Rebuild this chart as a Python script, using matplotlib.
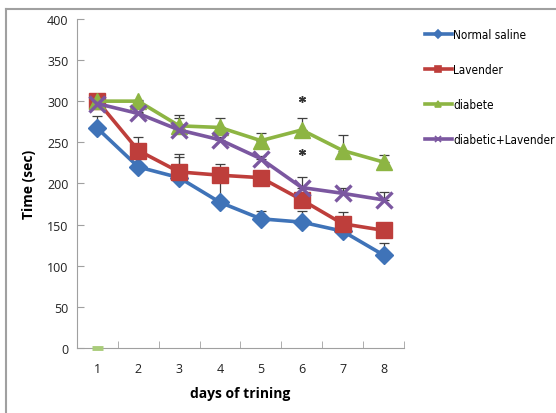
import numpy as np
import matplotlib
matplotlib.use("Agg")
import matplotlib.pyplot as plt
from matplotlib.lines import Line2D
from matplotlib.font_manager import FontProperties

days = [1, 2, 3, 4, 5, 6, 7, 8]
normal = [267, 220, 207, 177, 157, 153, 142, 113]
normal_err = [15, 5, 25, 25, 9, 14, 5, 15]
lavender = [300, 240, 214, 210, 207, 180, 151, 143]
lavender_err = [2, 17, 22, 14, 5, 10, 14, 2]
diabete = [300, 300, 270, 268, 252, 265, 240, 226]
diabete_err = [2, 2, 13, 11, 9, 14, 19, 8]
diab_lav = [297, 285, 265, 253, 230, 195, 188, 180]
diab_lav_err = [2, 2, 15, 3, 3, 13, 7, 9]
star_x = [6, 6]
star_y = [303, 238]

plt.rcParams['font.family'] = ['Open Sans', 'DejaVu Sans']

series = [
    ("Normal saline", normal, normal_err, '#3F73B8', 'D', 9),
    ("Lavender", lavender, lavender_err, '#BE3E3B', 's', 11),
    ("diabete", diabete, diabete_err, '#8DB543', '^', 11),
    ("diabetic+Lavender", diab_lav, diab_lav_err, '#7B57A0', 'x', 11),
]

fig = plt.figure(figsize=(5.56, 4.14), dpi=100)
ax = fig.add_axes([0.1385, 0.157, 0.588, 0.795])

for name, vals, err, col, mk, ms in series:
    ax.errorbar(days, vals, yerr=[np.zeros(len(err)), err], fmt='none',
                ecolor='#404040', elinewidth=0.9, capsize=3.5, capthick=0.9, zorder=1)
    ax.plot(days, vals, color=col, lw=2.6, marker=mk, ms=ms,
            mew=2.4 if mk == 'x' else 1, mec=col, mfc=col, zorder=2)

# stray green mark at the origin of day 1, as in the original
ax.plot([0.86, 1.14], [0, 0], color='#A9CC7A', lw=3.5, solid_capstyle='butt',
        zorder=3, clip_on=False)
ax.plot(star_x, star_y, ls='none', marker=(6, 2, 0), ms=5, mew=1, color='#333333')

ax.set_xlim(0.5, 8.5)
ax.set_ylim(0, 400)
ax.set_yticks(range(0, 401, 50))
ax.set_xticks(days)
ax.set_xticks(np.arange(0.5, 8.6, 1), minor=True)
ax.tick_params(axis='x', which='major', length=0, pad=10)
ax.tick_params(axis='x', which='minor', length=5, color='#A0A0A0', direction='in')
ax.tick_params(axis='y', length=5, color='#A0A0A0', direction='in', pad=6)
ax.tick_params(labelsize=9, labelcolor='#222222')
for side in ['top', 'right']:
    ax.spines[side].set_visible(False)
for side in ['left', 'bottom']:
    ax.spines[side].set_color('#A0A0A0')
ax.set_xlabel("days of trining", fontsize=10, fontweight='bold', labelpad=8)
ax.set_ylabel("Time (sec)", fontsize=10, fontweight='bold', labelpad=8)

leg_font = FontProperties(family='DejaVu Sans', stretch='condensed', size=8.5)
handles = [Line2D([], [], color=col, lw=2.6, marker=mk, ms=4, mew=1.2, mec=col)
           for name, vals, err, col, mk, ms in series]
fig.legend(handles, [s[0] for s in series], loc='upper left',
           bbox_to_anchor=(0.745, 0.955), frameon=False, prop=leg_font,
           handlelength=2.3, handletextpad=0.1, labelspacing=1.85)

fig.add_artist(Line2D([0.011, 0.011], [0, 0.976], color='#A0A0A0', lw=1.5))
fig.add_artist(Line2D([0.011, 1.0], [0.976, 0.976], color='#A0A0A0', lw=1.5))

fig.savefig("out.png", dpi=100)
